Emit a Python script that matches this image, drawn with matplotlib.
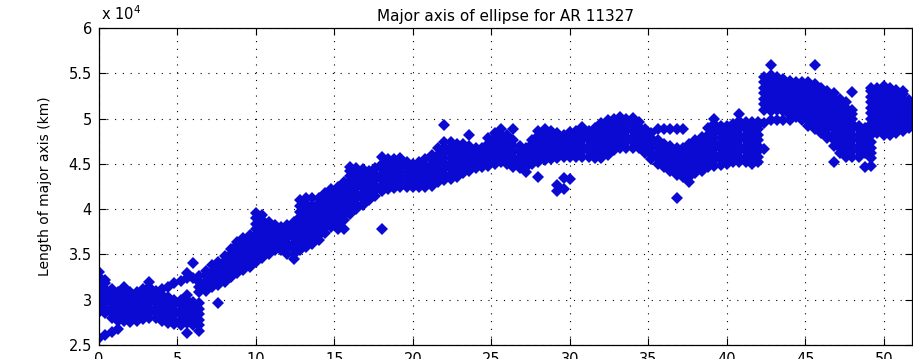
import matplotlib
matplotlib.use("Agg")
import matplotlib.pyplot as plt
import numpy as np

# sample times and measured major-axis lengths (units of 1e4 km) at each time
t = [0.0, 0.4, 0.8, 1.2, 1.6, 2.0, 2.4, 2.8, 3.2, 3.6,
     4.0, 4.4, 4.8, 5.2, 5.6, 6.0, 6.4, 6.8, 7.2, 7.6,
     8.0, 8.4, 8.8, 9.2, 9.6, 10.0, 10.4, 10.8, 11.2, 11.6,
     12.0, 12.4, 12.8, 13.2, 13.6, 14.0, 14.4, 14.8, 15.2, 15.6,
     16.0, 16.4, 16.8, 17.2, 17.6, 18.0, 18.4, 18.8, 19.2, 19.6,
     20.0, 20.4, 20.8, 21.2, 21.6, 22.0, 22.4, 22.8, 23.2, 23.6,
     24.0, 24.4, 24.8, 25.2, 25.6, 26.0, 26.4, 26.8, 27.2, 27.6,
     28.0, 28.4, 28.8, 29.2, 29.6, 30.0, 30.4, 30.8, 31.2, 31.6,
     32.0, 32.4, 32.8, 33.2, 33.6, 34.0, 34.4, 34.8, 35.2, 35.6,
     36.0, 36.4, 36.8, 37.2, 37.6, 38.0, 38.4, 38.8, 39.2, 39.6,
     40.0, 40.4, 40.8, 41.2, 41.6, 42.0, 42.4, 42.8, 43.2, 43.6,
     44.0, 44.4, 44.8, 45.2, 45.6, 46.0, 46.4, 46.8, 47.2, 47.6,
     48.0, 48.4, 48.8, 49.2, 49.6, 50.0, 50.4, 50.8, 51.2, 51.6]

major = [
    [2.58, 2.86, 2.92, 2.97, 3.03, 3.08, 3.14, 3.19, 3.25, 3.31],
    [2.61, 2.85, 2.90, 2.96, 3.01, 3.06, 3.12, 3.18, 3.22],
    [2.64, 2.80, 2.85, 2.91, 2.96, 3.02, 3.07, 3.12],
    [2.68, 2.77, 2.83, 2.88, 2.94, 2.99, 3.04, 3.08],
    [2.76, 2.81, 2.87, 2.92, 2.97, 3.02, 3.06, 3.14],
    [2.75, 2.80, 2.86, 2.91, 2.96, 3.02, 3.08],
    [2.77, 2.83, 2.88, 2.94, 2.99, 3.04, 3.08],
    [2.79, 2.84, 2.90, 2.95, 3.01, 3.06, 3.12],
    [2.80, 2.86, 2.91, 2.97, 3.02, 3.08, 3.14, 3.20],
    [2.80, 2.85, 2.91, 2.96, 3.01, 3.06, 3.10],
    [2.77, 2.82, 2.88, 2.93, 2.99, 3.05, 3.12],
    [2.74, 2.80, 2.85, 2.91, 2.97, 3.03, 3.14],
    [2.73, 2.78, 2.84, 2.89, 2.95, 3.00, 3.18],
    [2.72, 2.77, 2.83, 2.88, 2.94, 3.00, 3.21],
    [2.63, 2.74, 2.79, 2.85, 2.90, 2.95, 3.00, 3.05, 3.24, 3.30],
    [2.72, 2.77, 2.83, 2.88, 2.93, 2.98, 3.24, 3.40],
    [2.66, 2.72, 2.78, 2.84, 2.90, 2.96, 3.08, 3.14, 3.20, 3.26],
    [3.10, 3.16, 3.21, 3.27, 3.32],
    [3.14, 3.19, 3.25, 3.31, 3.38],
    [2.96, 3.16, 3.22, 3.28, 3.35, 3.42],
    [3.20, 3.26, 3.31, 3.37, 3.43, 3.48],
    [3.25, 3.31, 3.37, 3.43, 3.50, 3.56],
    [3.30, 3.36, 3.42, 3.48, 3.54, 3.60, 3.64],
    [3.33, 3.39, 3.45, 3.51, 3.57, 3.63, 3.68],
    [3.36, 3.42, 3.48, 3.54, 3.60, 3.66, 3.72],
    [3.42, 3.48, 3.54, 3.60, 3.66, 3.72, 3.78, 3.84, 3.90, 3.96],
    [3.46, 3.52, 3.58, 3.64, 3.70, 3.76, 3.82, 3.88, 3.93],
    [3.50, 3.56, 3.62, 3.68, 3.74, 3.80, 3.86],
    [3.55, 3.61, 3.66, 3.72, 3.77, 3.82],
    [3.55, 3.60, 3.66, 3.71, 3.76, 3.80],
    [3.50, 3.56, 3.62, 3.68, 3.73, 3.78, 3.82],
    [3.45, 3.51, 3.57, 3.63, 3.69, 3.75, 3.81, 3.86],
    [3.55, 3.61, 3.67, 3.73, 3.79, 3.85, 3.91, 3.97, 4.03, 4.10],
    [3.58, 3.64, 3.70, 3.76, 3.82, 3.88, 3.94, 4.00, 4.06, 4.12],
    [3.62, 3.68, 3.74, 3.80, 3.86, 3.92, 3.98, 4.04, 4.12],
    [3.66, 3.72, 3.78, 3.84, 3.90, 3.96, 4.02, 4.07, 4.12],
    [3.74, 3.80, 3.86, 3.92, 3.98, 4.04, 4.10, 4.18],
    [3.80, 3.86, 3.92, 3.98, 4.04, 4.10, 4.16, 4.22],
    [3.78, 3.84, 3.90, 3.96, 4.02, 4.08, 4.14, 4.19, 4.24],
    [3.78, 3.88, 3.94, 4.00, 4.06, 4.12, 4.18, 4.24, 4.30],
    [3.95, 4.01, 4.07, 4.13, 4.19, 4.25, 4.31, 4.37, 4.42, 4.47],
    [4.00, 4.06, 4.12, 4.18, 4.24, 4.30, 4.35, 4.40, 4.45],
    [4.05, 4.11, 4.17, 4.23, 4.28, 4.34, 4.39, 4.44],
    [4.10, 4.16, 4.22, 4.27, 4.32, 4.37, 4.42],
    [4.15, 4.21, 4.27, 4.33, 4.39, 4.45],
    [3.78, 4.20, 4.26, 4.32, 4.38, 4.44, 4.50, 4.58],
    [4.22, 4.28, 4.34, 4.40, 4.45, 4.50, 4.55],
    [4.23, 4.29, 4.35, 4.41, 4.46, 4.51, 4.55],
    [4.24, 4.30, 4.36, 4.41, 4.46, 4.51, 4.56],
    [4.24, 4.30, 4.35, 4.41, 4.47, 4.52],
    [4.24, 4.30, 4.35, 4.40, 4.45, 4.50],
    [4.24, 4.30, 4.36, 4.41, 4.47, 4.52],
    [4.24, 4.30, 4.36, 4.42, 4.48, 4.55],
    [4.26, 4.32, 4.38, 4.44, 4.50, 4.55, 4.60],
    [4.30, 4.36, 4.42, 4.48, 4.54, 4.60, 4.68],
    [4.32, 4.38, 4.44, 4.50, 4.56, 4.62, 4.68, 4.74, 4.93],
    [4.33, 4.39, 4.45, 4.51, 4.57, 4.63, 4.69, 4.74],
    [4.36, 4.42, 4.48, 4.54, 4.60, 4.66, 4.72],
    [4.40, 4.46, 4.52, 4.58, 4.64, 4.72],
    [4.42, 4.48, 4.54, 4.60, 4.65, 4.70, 4.82],
    [4.45, 4.51, 4.57, 4.63, 4.68],
    [4.46, 4.52, 4.58, 4.63, 4.68],
    [4.48, 4.54, 4.60, 4.66, 4.72, 4.78],
    [4.50, 4.56, 4.62, 4.68, 4.74, 4.79, 4.84],
    [4.52, 4.58, 4.64, 4.70, 4.76, 4.82, 4.88],
    [4.50, 4.56, 4.62, 4.68, 4.74, 4.79, 4.82],
    [4.46, 4.52, 4.58, 4.64, 4.70, 4.76, 4.89],
    [4.45, 4.51, 4.57, 4.63, 4.70],
    [4.41, 4.47, 4.53, 4.58, 4.63, 4.68],
    [4.50, 4.56, 4.62, 4.68, 4.72, 4.76],
    [4.36, 4.52, 4.58, 4.64, 4.70, 4.76, 4.81, 4.86],
    [4.54, 4.60, 4.66, 4.72, 4.78, 4.83, 4.88],
    [4.55, 4.61, 4.67, 4.73, 4.79, 4.83, 4.86],
    [4.20, 4.27, 4.56, 4.62, 4.68, 4.74, 4.79, 4.84],
    [4.22, 4.34, 4.58, 4.64, 4.70, 4.76, 4.82],
    [4.33, 4.58, 4.64, 4.70, 4.75, 4.80, 4.85],
    [4.58, 4.64, 4.70, 4.75, 4.80, 4.86],
    [4.58, 4.64, 4.70, 4.76, 4.82, 4.88, 4.91],
    [4.58, 4.64, 4.70, 4.76, 4.81, 4.86],
    [4.57, 4.63, 4.69, 4.75, 4.81, 4.86, 4.90],
    [4.56, 4.62, 4.68, 4.74, 4.80, 4.86, 4.91, 4.95],
    [4.60, 4.66, 4.72, 4.78, 4.84, 4.90, 4.95, 4.98],
    [4.65, 4.71, 4.77, 4.83, 4.89, 4.95, 5.00],
    [4.67, 4.73, 4.79, 4.85, 4.91, 4.96, 5.02],
    [4.68, 4.74, 4.80, 4.86, 4.92, 4.97, 5.00],
    [4.68, 4.74, 4.80, 4.86, 4.92, 4.97, 5.01],
    [4.68, 4.74, 4.80, 4.86, 4.91, 4.96],
    [4.62, 4.68, 4.74, 4.79, 4.84, 4.88],
    [4.55, 4.61, 4.67, 4.73, 4.79, 4.84],
    [4.50, 4.56, 4.62, 4.68, 4.73, 4.76, 4.88],
    [4.46, 4.52, 4.58, 4.63, 4.68, 4.72, 4.88],
    [4.42, 4.48, 4.54, 4.60, 4.65, 4.70, 4.88],
    [4.12, 4.38, 4.44, 4.50, 4.56, 4.62, 4.68, 4.88],
    [4.35, 4.41, 4.47, 4.53, 4.59, 4.64, 4.68, 4.88],
    [4.30, 4.36, 4.42, 4.48, 4.54, 4.60, 4.66, 4.72],
    [4.40, 4.46, 4.52, 4.58, 4.64, 4.70, 4.76],
    [4.42, 4.48, 4.54, 4.60, 4.66, 4.72, 4.80],
    [4.46, 4.52, 4.58, 4.64, 4.70, 4.76, 4.82, 4.90],
    [4.48, 4.54, 4.60, 4.66, 4.72, 4.78, 4.84, 4.90, 4.94, 4.99],
    [4.49, 4.55, 4.61, 4.67, 4.73, 4.79, 4.85, 4.92],
    [4.50, 4.56, 4.62, 4.68, 4.74, 4.80, 4.86, 4.92],
    [4.52, 4.58, 4.64, 4.70, 4.76, 4.82, 4.88, 4.94],
    [4.52, 4.58, 4.64, 4.70, 4.76, 4.82, 4.88, 4.93, 4.97, 5.05],
    [4.52, 4.58, 4.64, 4.70, 4.76, 4.82, 4.88, 4.93, 4.96],
    [4.50, 4.56, 4.62, 4.68, 4.74, 4.80, 4.86, 4.91, 4.96],
    [4.52, 4.58, 4.64, 4.70, 4.76, 4.82, 4.88, 4.93, 4.96],
    [4.66, 4.95, 5.10, 5.16, 5.22, 5.28, 5.34, 5.40, 5.46],
    [4.98, 5.08, 5.14, 5.20, 5.26, 5.32, 5.38, 5.43, 5.48, 5.59],
    [4.98, 5.10, 5.16, 5.22, 5.28, 5.34, 5.40, 5.46],
    [4.98, 5.08, 5.14, 5.20, 5.26, 5.32, 5.38, 5.44],
    [4.98, 5.04, 5.10, 5.16, 5.22, 5.28, 5.34, 5.38, 5.42],
    [5.02, 5.08, 5.14, 5.20, 5.26, 5.32, 5.36, 5.40],
    [4.98, 5.04, 5.10, 5.16, 5.22, 5.28, 5.34, 5.40],
    [4.92, 4.98, 5.04, 5.10, 5.16, 5.22, 5.28, 5.34, 5.40],
    [4.88, 4.94, 5.00, 5.06, 5.12, 5.18, 5.24, 5.30, 5.38, 5.59],
    [4.84, 4.90, 4.96, 5.02, 5.08, 5.14, 5.20, 5.26, 5.34],
    [4.78, 4.83, 4.90, 4.96, 5.02, 5.08, 5.14, 5.20, 5.25, 5.30],
    [4.52, 4.70, 4.76, 4.82, 4.88, 4.94, 5.00, 5.06, 5.12, 5.18, 5.23, 5.28],
    [4.62, 4.68, 4.74, 4.80, 4.86, 4.92, 4.98, 5.04, 5.10, 5.16, 5.22],
    [4.58, 4.64, 4.70, 4.76, 4.82, 4.88, 4.94, 5.00, 5.06, 5.12, 5.18],
    [4.58, 4.64, 4.70, 4.76, 4.82, 4.88, 4.94, 5.00, 5.05, 5.10, 5.29],
    [4.58, 4.64, 4.70, 4.76, 4.82, 4.88, 4.92],
    [4.47, 4.62, 4.68, 4.74, 4.80, 4.86, 4.90],
    [4.48, 4.56, 4.62, 4.68, 4.74, 4.82, 4.88, 4.94, 5.00, 5.06, 5.12, 5.18, 5.24, 5.30, 5.34],
    [4.84, 4.90, 4.96, 5.02, 5.08, 5.14, 5.20, 5.26, 5.30, 5.34],
    [4.82, 4.88, 4.94, 5.00, 5.06, 5.12, 5.18, 5.24, 5.30, 5.36],
    [4.82, 4.88, 4.94, 5.00, 5.06, 5.12, 5.18, 5.24, 5.29, 5.34],
    [4.84, 4.90, 4.96, 5.02, 5.08, 5.14, 5.20, 5.26, 5.32],
    [4.86, 4.92, 4.98, 5.04, 5.10, 5.16, 5.22, 5.27, 5.30],
    [4.90, 4.96, 5.02, 5.08, 5.14, 5.20],
]

xticks = [0, 5, 10, 15, 20, 25, 30, 35, 40, 45, 50]
yticks = [2.5, 3, 3.5, 4, 4.5, 5, 5.5, 6]
yticklabels = ['2.5', '3', '3.5', '4', '4.5', '5', '5.5', '6']

xs = []
ys = []
for ti, col in zip(t, major):
    for v in col:
        xs.append(ti)
        ys.append(v)

fig = plt.figure(figsize=(9.13, 3.59), dpi=100)
ax = fig.add_axes([99/913, 14/359, (912-99)/913, (345-28)/359])

ax.plot(xs, ys, linestyle='none', marker='D', markersize=6.0,
        color='#0a0ad2', markeredgewidth=0)

ax.set_xlim(0, 51.8)
ax.set_ylim(2.5, 6)
ax.set_xticks(xticks)
ax.set_yticks(yticks)
ax.set_yticklabels(yticklabels)
ax.tick_params(direction='in', length=5, width=0.8, top=True, right=True,
               labelsize=10.5, pad=5)
for sp in ax.spines.values():
    sp.set_linewidth(0.9)

ax.grid(True, color='black', linewidth=0.8, linestyle=(0, (1, 6)))

ax.set_title('Major axis of ellipse for AR 11327', fontsize=11, pad=5)
ax.set_ylabel('Length of major axis (km)', fontsize=10, labelpad=12)
ax.text(0.003, 1.015, r'x 10$^4$', transform=ax.transAxes, fontsize=10.5,
        ha='left', va='bottom')

fig.savefig('out.png', dpi=100)
